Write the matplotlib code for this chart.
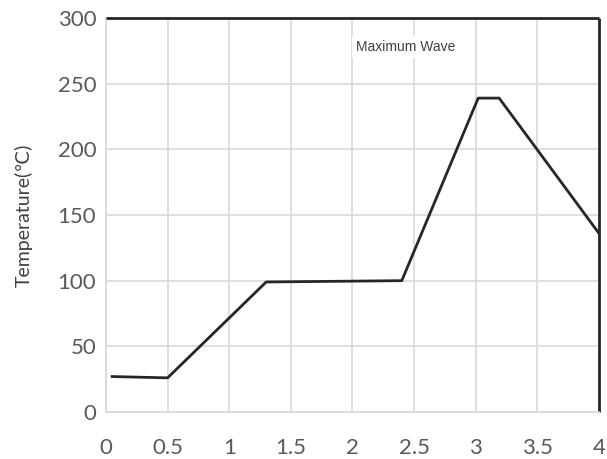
import matplotlib
matplotlib.use('Agg')
import matplotlib.pyplot as plt

# reflow profile
time_h = [0.05, 0.5, 1.3, 2.4, 3.02, 3.19, 4.0]
temp_c = [27, 26, 99, 100, 239, 239, 136]
xticks = [0, 0.5, 1, 1.5, 2, 2.5, 3, 3.5, 4]
xticklabels = ['0', '0.5', '1', '1.5', '2', '2.5', '3', '3.5', '4']
yticks = [0, 50, 100, 150, 200, 250, 300]

plt.rcParams['font.family'] = ['Lato', 'DejaVu Sans']

fig = plt.figure(figsize=(6.07, 4.59), dpi=100)
ax = fig.add_axes([0.1746, 0.1024, 0.8122, 0.8584])

ax.plot(time_h, temp_c, color='#262626', lw=2, zorder=3)

ax.set_xlim(0, 4)
ax.set_ylim(0, 300)
ax.set_xticks(xticks)
ax.set_xticklabels(xticklabels)
ax.set_yticks(yticks)
ax.grid(True, color='#d9d9d9', lw=1.2)
ax.set_axisbelow(True)
ax.tick_params(length=0, labelsize=16, labelcolor='#595959', pad=7)
ax.tick_params(axis='x', pad=19)

for side in ['left', 'bottom']:
    ax.spines[side].set_color('#d9d9d9')
    ax.spines[side].set_linewidth(1.2)
for side in ['top', 'right']:
    ax.spines[side].set_color('#262626')
    ax.spines[side].set_linewidth(2)
    ax.spines[side].set_capstyle('butt')

ax.set_ylabel('Temperature(℃)', fontsize=14, color='#404040', labelpad=18)

ax.text(2.43, 278, 'Maximum Wave', ha='center', va='center', fontsize=10,
        family=['Liberation Sans', 'DejaVu Sans'], color='#404040', zorder=4,
        bbox=dict(facecolor='white', edgecolor='none', pad=3))

fig.savefig('out.png', dpi=100)
